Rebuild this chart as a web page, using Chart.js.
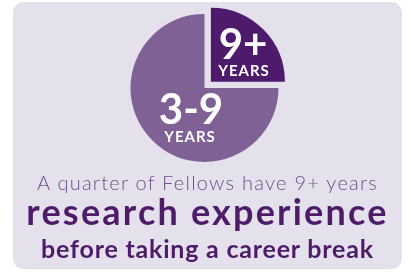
<!DOCTYPE html>
<html>
<head>
<meta charset="utf-8">
<script src="https://cdn.jsdelivr.net/npm/chart.js@4.4.1/dist/chart.umd.min.js"></script>
<style>
  html, body { margin: 0; padding: 0; background: #fff; }
  body { width: 411px; height: 272px; position: relative; overflow: hidden; font-family: Lato, "Open Sans", sans-serif; }
  .card { position: absolute; left: 13px; top: 2px; width: 389px; height: 267px; background: #e4e0ec; border-radius: 11px; }
  .pie { position: absolute; left: 115px; top: 0; width: 179px; height: 176px; }
  .line { position: absolute; left: 13px; width: 389px; text-align: center; line-height: 1; white-space: nowrap; }
  .l1 { top: 172px; font-size: 20px; font-weight: 300; color: #6f5189; letter-spacing: 1.25px; }
  .l2 { top: 193px; font-size: 36px; font-weight: 700; color: #4e1b69; letter-spacing: 2.2px; }
  .l3 { top: 236px; font-size: 25px; font-weight: 700; color: #4e1b69; letter-spacing: 0.8px; }
</style>
</head>
<body>
<div class="card"></div>
<div class="pie"><canvas id="pie"></canvas></div>
<div class="line l1">A quarter of Fellows have 9+ years</div>
<div class="line l2">research experience</div>
<div class="line l3">before taking a career break</div>
<script>
const labels = ["9+", "3-9"];
const shares = [25, 75];
const sliceColors = ["#4e1a6b", "#806195"];
const sliceOffsets = [36, 0];

// text drawn inside each slice, relative to the pie centre
const sliceText = [
  { big: [38.5, -43], small: [39.5, -17] },
  { big: [-13.5, 22], small: [-14.5, 49] }
];

const sliceLabels = {
  id: "sliceLabels",
  afterDatasetsDraw(chart) {
    const ctx = chart.ctx;
    const arcs = chart.getDatasetMeta(0).data;
    ctx.save();
    ctx.fillStyle = "#fff";
    ctx.textAlign = "center";
    ctx.textBaseline = "middle";
    arcs.forEach((arc, i) => {
      const pos = sliceText[i];
      ctx.font = "bold 42px Lato";
      ctx.fillText(labels[i], arc.x + pos.big[0], arc.y + pos.big[1]);
      ctx.font = "bold 15px Lato";
      ctx.letterSpacing = "1px";
      ctx.fillText("YEARS", arc.x + pos.small[0], arc.y + pos.small[1]);
      ctx.letterSpacing = "0px";
    });
    ctx.restore();
  }
};

new Chart(document.getElementById("pie"), {
  type: "pie",
  data: {
    labels: labels,
    datasets: [{
      data: shares,
      backgroundColor: sliceColors,
      borderWidth: 0,
      offset: sliceOffsets,
      radius: 74
    }]
  },
  options: {
    responsive: true,
    maintainAspectRatio: false,
    animation: false,
    events: [],
    layout: { padding: 0 },
    plugins: {
      legend: { display: false },
      tooltip: { enabled: false }
    }
  },
  plugins: [sliceLabels]
});
</script>
</body>
</html>
